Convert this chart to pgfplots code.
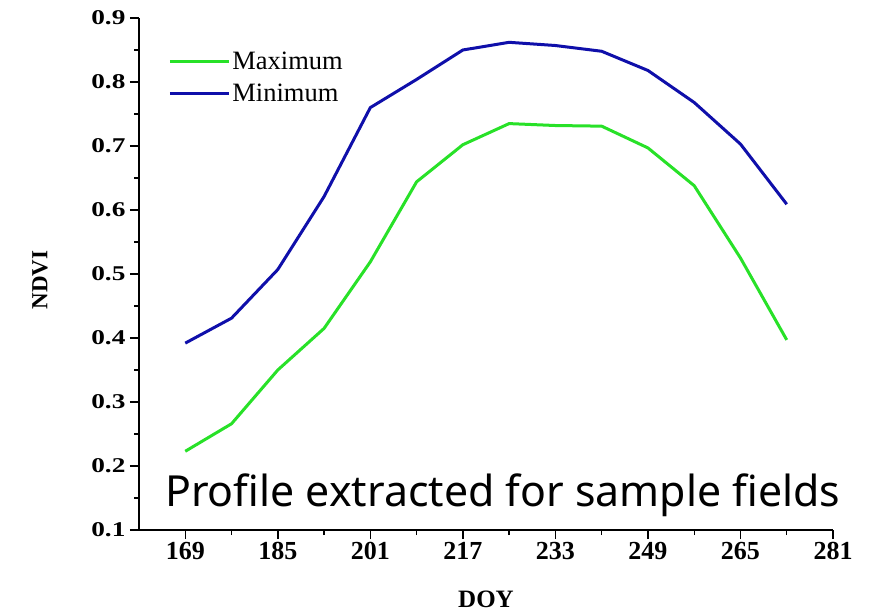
\documentclass[border=0pt]{standalone}
\usepackage{fontspec}
\setmainfont{Liberation Serif}
\newfontfamily\notesans{Noto Sans}
\usepackage{graphicx}
\usepackage{pgfplots}
\pgfplotsset{compat=1.18}
\definecolor{maxgreen}{RGB}{40,225,40}
\definecolor{minblue}{RGB}{15,15,170}
\begin{document}
\begin{tikzpicture}[x=1pt,y=1pt]
\begin{axis}[
  at={(139pt,83pt)}, anchor=south west,
  scale only axis, width=694pt, height=512pt,
  xmin=161, xmax=281, ymin=0.1, ymax=0.9,
  axis x line*=bottom, axis y line*=left,
  xtick={169,185,...,281}, minor xtick={177,193,...,273},
  ytick={0.1,0.2,...,0.9}, minor ytick={0.15,0.25,...,0.85},
  tick align=outside, major tick length=9pt, minor tick length=5pt,
  every tick/.style={line width=1.4pt, black},
  axis line style={line width=1.8pt},
  /pgf/number format/assume math mode=true,
  xticklabel style={font=\fontsize{26}{26}\selectfont\bfseries},
  yticklabel style={font=\fontsize{21}{21}\selectfont\bfseries, xscale=1.3},
  yticklabel={\pgfmathprintnumber[fixed,precision=1,fixed zerofill]{\tick}},
  xticklabel={\pgfmathprintnumber[fixed,precision=0]{\tick}},
  xlabel={DOY}, ylabel={NDVI},
  every axis x label/.style={at={(axis description cs:0.5,-0.136)}, anchor=center, font=\fontsize{25}{25}\selectfont\bfseries},
  every axis y label/.style={at={(axis description cs:-0.1427,0.488)}, rotate=90, anchor=center, font=\fontsize{23}{23}\selectfont\bfseries},
  legend style={draw=none, fill=none, at={(axis description cs:0.042,0.937)}, anchor=north west,
    font=\fontsize{26.5}{27}\selectfont, inner sep=0pt, row sep=8pt, nodes={inner sep=2pt}},
  legend cell align=left,
  legend image code/.code={\draw[#1, line width=3pt] (0pt,0pt) -- (59pt,0pt);},
]
\addplot[maxgreen, line width=3pt, no marks] coordinates {
 (169,0.223) (177,0.266) (185,0.350) (193,0.415) (201,0.519) (209,0.644) (217,0.702)
 (225,0.735) (233,0.732) (241,0.731) (249,0.697) (257,0.638) (265,0.525) (273,0.397)};
\addlegendentry{Maximum}
\addplot[minblue, line width=3pt, no marks] coordinates {
 (169,0.392) (177,0.431) (185,0.507) (193,0.621) (201,0.760) (209,0.804) (217,0.850)
 (225,0.862) (233,0.857) (241,0.848) (249,0.818) (257,0.768) (265,0.703) (273,0.609)};
\addlegendentry{Minimum}
\end{axis}
\node[anchor=base west, inner sep=0pt] at (165pt,106.3pt) {\resizebox{675pt}{!}{\notesans Profile extracted for sample fields}};
\pgfresetboundingbox
\path[use as bounding box] (0pt,0pt) rectangle (877pt,613pt);
\end{tikzpicture}
\end{document}
